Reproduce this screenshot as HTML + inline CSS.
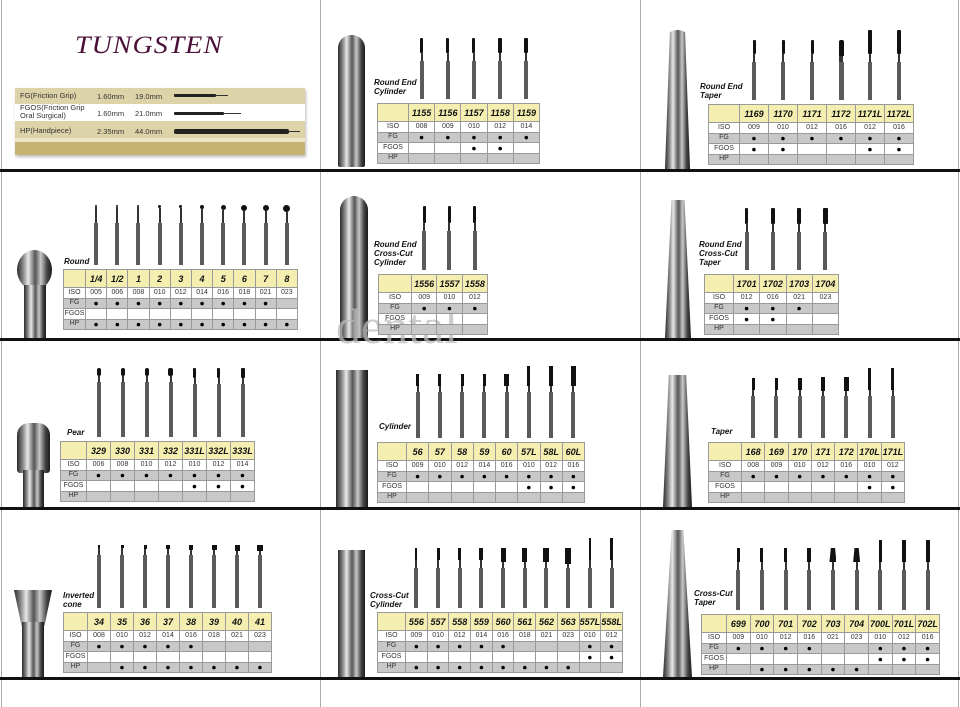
<!DOCTYPE html>
<html><head><meta charset="utf-8"><style>
*{margin:0;padding:0;box-sizing:border-box}
body{width:960px;height:707px;position:relative;background:#fff;overflow:hidden;font-family:"Liberation Sans",sans-serif}
.a{position:absolute}
.hl{position:absolute;left:0;width:960px;height:3px;background:#111}
.vl{position:absolute;top:0;width:1px;height:707px;background:#aaa}
.t{position:absolute;border-collapse:collapse;table-layout:fixed}
.t td{border:1px solid #9a9a9a;padding:0;text-align:center;font-size:7px;color:#333;line-height:8px;height:10.5px;white-space:nowrap;overflow:hidden}
.t tr.b td{border:none;vertical-align:bottom;height:auto;overflow:visible}
.t tr.h td{background:#f4eeb0;font-weight:bold;font-style:italic;font-size:9px;color:#111;height:18px}
.t tr.g td{background:#c8c8c8}
.t td.k{font-size:8.5px;color:#000}
.u{display:inline-block;vertical-align:bottom;margin-bottom:4px}
.u b{display:block;margin:0 auto;background:#111}
.u i{display:block;margin:0 auto;width:2px;background:#333}
.u u{display:block;margin:0 auto;width:4px;background:#5b5b5b;text-decoration:none}
.lb{position:absolute;font-weight:bold;font-style:italic;font-size:8px;line-height:9px;color:#111}
.m{position:absolute;background:linear-gradient(90deg,#2a2a2a 0%,#8a8a8a 18%,#e8e8e8 32%,#555 52%,#c8c8c8 68%,#444 86%,#1a1a1a 100%)}
</style></head><body>

<div class="vl" style="left:1px"></div>
<div class="vl" style="left:320px"></div>
<div class="vl" style="left:640px"></div>
<div class="vl" style="left:958px"></div>
<div class="hl" style="top:169px"></div>
<div class="hl" style="top:338px"></div>
<div class="hl" style="top:507px"></div>
<div class="hl" style="top:677px"></div>

<!-- Panel 1 -->
<div class="a" style="left:75px;top:30px;font-family:'Liberation Serif',serif;font-style:italic;font-size:28px;color:#4a1038;letter-spacing:1px;transform:scaleY(0.9)">TUNGSTEN</div>
<div class="a" style="left:15px;top:88px;width:290px;height:67px;background:#ddd3a8;box-shadow:1px 2px 3px #bbb"></div>
<div class="a" style="left:15px;top:104px;width:290px;height:17px;background:#fff"></div>
<div class="a" style="left:15px;top:138px;width:290px;height:4px;background:#eee6c6"></div>
<div class="a" style="left:15px;top:142px;width:290px;height:13px;background:#c6b373"></div>
<div class="a" style="left:20px;top:91px;font-size:7.5px;color:#333">FG(Friction Grip)</div>
<div class="a" style="left:20px;top:104px;font-size:7.5px;color:#333;line-height:8px">FGOS(Friction Grip<br>Oral Surgical)</div>
<div class="a" style="left:20px;top:126px;font-size:7.5px;color:#333">HP(Handpiece)</div>
<div class="a" style="left:97px;top:92px;font-size:7.5px;color:#333">1.60mm</div>
<div class="a" style="left:135px;top:92px;font-size:7.5px;color:#333">19.0mm</div>
<div class="a" style="left:97px;top:109px;font-size:7.5px;color:#333">1.60mm</div>
<div class="a" style="left:135px;top:109px;font-size:7.5px;color:#333">21.0mm</div>
<div class="a" style="left:97px;top:127px;font-size:7.5px;color:#333">2.35mm</div>
<div class="a" style="left:135px;top:127px;font-size:7.5px;color:#333">44.0mm</div>
<div class="a" style="left:174px;top:94px;width:42px;height:3px;background:#222;border-radius:1px"></div>
<div class="a" style="left:216px;top:95px;width:12px;height:1px;background:#333"></div>
<div class="a" style="left:174px;top:112px;width:50px;height:3px;background:#222;border-radius:1px"></div>
<div class="a" style="left:224px;top:113px;width:17px;height:1px;background:#333"></div>
<div class="a" style="left:174px;top:129px;width:115px;height:5px;background:#222;border-radius:2px"></div>
<div class="a" style="left:289px;top:131px;width:11px;height:1px;background:#333"></div>

<!-- Big metallic burs -->
<div class="m" style="left:338px;top:35px;width:27px;height:132px;border-radius:13px 13px 2px 2px"></div>
<div class="m" style="left:665px;top:30px;width:25px;height:139px;border-radius:12px 12px 0 0;clip-path:polygon(20% 0,80% 0,100% 100%,0 100%)"></div>
<div class="m" style="left:17px;top:250px;width:35px;height:40px;border-radius:50%"></div>
<div class="m" style="left:24px;top:285px;width:22px;height:53px"></div>
<div class="m" style="left:340px;top:196px;width:28px;height:142px;border-radius:14px 14px 0 0"></div>
<div class="m" style="left:665px;top:200px;width:26px;height:138px;border-radius:8px 8px 0 0;clip-path:polygon(25% 0,75% 0,100% 100%,0 100%)"></div>
<div class="m" style="left:17px;top:423px;width:33px;height:50px;border-radius:12px 12px 3px 3px"></div>
<div class="m" style="left:23px;top:470px;width:21px;height:37px"></div>
<div class="m" style="left:336px;top:370px;width:32px;height:137px"></div>
<div class="m" style="left:663px;top:375px;width:29px;height:132px;clip-path:polygon(20% 0,80% 0,100% 100%,0 100%)"></div>
<div class="m" style="left:14px;top:590px;width:38px;height:36px;clip-path:polygon(0 0,100% 0,80% 100%,20% 100%)"></div>
<div class="m" style="left:22px;top:622px;width:22px;height:55px"></div>
<div class="m" style="left:338px;top:550px;width:27px;height:127px"></div>
<div class="m" style="left:663px;top:530px;width:29px;height:147px;clip-path:polygon(30% 0,70% 0,100% 100%,0 100%)"></div>

<div class="a" style="left:336px;top:296px;font-family:'Liberation Serif',serif;font-size:50px;color:#bbb;opacity:.75;line-height:60px">dental</div>

<!-- Labels -->
<div class="lb" style="left:64px;top:257px">Round</div>
<div class="lb" style="left:374px;top:78px">Round End<br>Cylinder</div>
<div class="lb" style="left:700px;top:82px">Round End<br>Taper</div>
<div class="lb" style="left:699px;top:240px">Round End<br>Cross-Cut<br>Taper</div>
<div class="lb" style="left:374px;top:240px">Round End<br>Cross-Cut<br>Cylinder</div>
<div class="lb" style="left:379px;top:422px">Cylinder</div>
<div class="lb" style="left:67px;top:428px">Pear</div>
<div class="lb" style="left:63px;top:591px">Inverted<br>cone</div>
<div class="lb" style="left:711px;top:427px">Taper</div>
<div class="lb" style="left:694px;top:589px">Cross-Cut<br>Taper</div>
<div class="lb" style="left:370px;top:591px">Cross-Cut<br>Cylinder</div>

<!-- Round -->
<table class="t" style="left:63px;top:205px;width:235px">
<colgroup><col style="width:22px"><col span="10"></colgroup>
<tr class="b"><td></td>
<td><div class="u"><b style="width:2px;height:2px;border-radius:50%"></b><i style="height:16px"></i><u style="height:42px"></u></div></td>
<td><div class="u"><b style="width:2px;height:2px;border-radius:50%"></b><i style="height:16px"></i><u style="height:42px"></u></div></td>
<td><div class="u"><b style="width:2px;height:2px;border-radius:50%"></b><i style="height:16px"></i><u style="height:42px"></u></div></td>
<td><div class="u"><b style="width:3px;height:3px;border-radius:50%"></b><i style="height:15px"></i><u style="height:42px"></u></div></td>
<td><div class="u"><b style="width:3px;height:3px;border-radius:50%"></b><i style="height:15px"></i><u style="height:42px"></u></div></td>
<td><div class="u"><b style="width:4px;height:4px;border-radius:50%"></b><i style="height:14px"></i><u style="height:42px"></u></div></td>
<td><div class="u"><b style="width:5px;height:5px;border-radius:50%"></b><i style="height:13px"></i><u style="height:42px"></u></div></td>
<td><div class="u"><b style="width:6px;height:6px;border-radius:50%"></b><i style="height:12px"></i><u style="height:42px"></u></div></td>
<td><div class="u"><b style="width:6px;height:6px;border-radius:50%"></b><i style="height:12px"></i><u style="height:42px"></u></div></td>
<td><div class="u"><b style="width:7px;height:7px;border-radius:50%"></b><i style="height:11px"></i><u style="height:42px"></u></div></td></tr>
<tr class="h"><td></td><td>1/4</td><td>1/2</td><td>1</td><td>2</td><td>3</td><td>4</td><td>5</td><td>6</td><td>7</td><td>8</td></tr>
<tr><td>ISO</td><td>005</td><td>006</td><td>008</td><td>010</td><td>012</td><td>014</td><td>016</td><td>018</td><td>021</td><td>023</td></tr>
<tr class="g"><td>FG</td><td class="k">●</td><td class="k">●</td><td class="k">●</td><td class="k">●</td><td class="k">●</td><td class="k">●</td><td class="k">●</td><td class="k">●</td><td class="k">●</td><td></td></tr>
<tr><td>FGOS</td><td></td><td></td><td></td><td></td><td></td><td></td><td></td><td></td><td></td><td></td></tr>
<tr class="g"><td>HP</td><td class="k">●</td><td class="k">●</td><td class="k">●</td><td class="k">●</td><td class="k">●</td><td class="k">●</td><td class="k">●</td><td class="k">●</td><td class="k">●</td><td class="k">●</td></tr>
</table>

<!-- Round End Cylinder -->
<table class="t" style="left:377px;top:38px;width:163px">
<colgroup><col style="width:31px"><col span="5"></colgroup>
<tr class="b"><td></td>
<td><div class="u"><b style="width:3px;height:15px;border-radius:1px"></b><i style="height:8px"></i><u style="height:38px"></u></div></td>
<td><div class="u"><b style="width:3px;height:15px;border-radius:1px"></b><i style="height:8px"></i><u style="height:38px"></u></div></td>
<td><div class="u"><b style="width:3px;height:15px;border-radius:1px"></b><i style="height:8px"></i><u style="height:38px"></u></div></td>
<td><div class="u"><b style="width:4px;height:15px;border-radius:1px"></b><i style="height:8px"></i><u style="height:38px"></u></div></td>
<td><div class="u"><b style="width:4px;height:15px;border-radius:1px"></b><i style="height:8px"></i><u style="height:38px"></u></div></td></tr>
<tr class="h"><td></td><td>1155</td><td>1156</td><td>1157</td><td>1158</td><td>1159</td></tr>
<tr><td>ISO</td><td>008</td><td>009</td><td>010</td><td>012</td><td>014</td></tr>
<tr class="g"><td>FG</td><td class="k">●</td><td class="k">●</td><td class="k">●</td><td class="k">●</td><td class="k">●</td></tr>
<tr><td>FGOS</td><td></td><td></td><td class="k">●</td><td class="k">●</td><td></td></tr>
<tr class="g"><td>HP</td><td></td><td></td><td></td><td></td><td></td></tr>
</table>

<!-- Round End Taper -->
<table class="t" style="left:708px;top:30px;width:206px">
<colgroup><col style="width:31px"><col span="6"></colgroup>
<tr class="b"><td></td>
<td><div class="u"><b style="width:3px;height:14px;border-radius:1px"></b><i style="height:8px"></i><u style="height:38px"></u></div></td>
<td><div class="u"><b style="width:3px;height:14px;border-radius:1px"></b><i style="height:8px"></i><u style="height:38px"></u></div></td>
<td><div class="u"><b style="width:3px;height:14px;border-radius:1px"></b><i style="height:8px"></i><u style="height:38px"></u></div></td>
<td><div class="u"><b style="width:5px;height:16px;border-radius:2px 2px 0 0"></b><i style="height:6px;width:4px"></i><u style="height:38px;width:5px"></u></div></td>
<td><div class="u"><b style="width:4px;height:24px;border-radius:1px"></b><i style="height:8px"></i><u style="height:38px"></u></div></td>
<td><div class="u"><b style="width:4px;height:24px;border-radius:1px"></b><i style="height:8px"></i><u style="height:38px"></u></div></td></tr>
<tr class="h"><td></td><td>1169</td><td>1170</td><td>1171</td><td>1172</td><td>1171L</td><td>1172L</td></tr>
<tr><td>ISO</td><td>009</td><td>010</td><td>012</td><td>016</td><td>012</td><td>016</td></tr>
<tr class="g"><td>FG</td><td class="k">●</td><td class="k">●</td><td class="k">●</td><td class="k">●</td><td class="k">●</td><td class="k">●</td></tr>
<tr><td>FGOS</td><td class="k">●</td><td class="k">●</td><td></td><td></td><td class="k">●</td><td class="k">●</td></tr>
<tr class="g"><td>HP</td><td></td><td></td><td></td><td></td><td></td><td></td></tr>
</table>

<!-- Round End Cross-Cut Taper -->
<table class="t" style="left:704px;top:208px;width:135px">
<colgroup><col style="width:29px"><col span="4"></colgroup>
<tr class="b"><td></td>
<td><div class="u"><b style="width:3px;height:16px;border-radius:1px"></b><i style="height:8px"></i><u style="height:38px"></u></div></td>
<td><div class="u"><b style="width:4px;height:16px;border-radius:1px"></b><i style="height:8px"></i><u style="height:38px"></u></div></td>
<td><div class="u"><b style="width:4px;height:16px;border-radius:1px"></b><i style="height:8px"></i><u style="height:38px"></u></div></td>
<td><div class="u"><b style="width:5px;height:16px;border-radius:1px"></b><i style="height:8px"></i><u style="height:38px"></u></div></td></tr>
<tr class="h"><td></td><td>1701</td><td>1702</td><td>1703</td><td>1704</td></tr>
<tr><td>ISO</td><td>012</td><td>016</td><td>021</td><td>023</td></tr>
<tr class="g"><td>FG</td><td class="k">●</td><td class="k">●</td><td class="k">●</td><td></td></tr>
<tr><td>FGOS</td><td class="k">●</td><td class="k">●</td><td></td><td></td></tr>
<tr class="g"><td>HP</td><td></td><td></td><td></td><td></td></tr>
</table>

<!-- Round End Cross-Cut Cylinder -->
<table class="t" style="left:378px;top:206px;width:110px">
<colgroup><col style="width:33px"><col span="3"></colgroup>
<tr class="b"><td></td>
<td><div class="u"><b style="width:3px;height:17px;border-radius:1px"></b><i style="height:8px"></i><u style="height:39px"></u></div></td>
<td><div class="u"><b style="width:3px;height:17px;border-radius:1px"></b><i style="height:8px"></i><u style="height:39px"></u></div></td>
<td><div class="u"><b style="width:3px;height:17px;border-radius:1px"></b><i style="height:8px"></i><u style="height:39px"></u></div></td></tr>
<tr class="h"><td></td><td>1556</td><td>1557</td><td>1558</td></tr>
<tr><td>ISO</td><td>009</td><td>010</td><td>012</td></tr>
<tr class="g"><td>FG</td><td class="k">●</td><td class="k">●</td><td class="k">●</td></tr>
<tr><td>FGOS</td><td></td><td></td><td></td></tr>
<tr class="g"><td>HP</td><td></td><td></td><td></td></tr>
</table>

<!-- Cylinder -->
<table class="t" style="left:377px;top:366px;width:208px">
<colgroup><col style="width:29px"><col span="8"></colgroup>
<tr class="b"><td></td>
<td><div class="u"><b style="width:3px;height:12px"></b><i style="height:6px"></i><u style="height:46px"></u></div></td>
<td><div class="u"><b style="width:3px;height:12px"></b><i style="height:6px"></i><u style="height:46px"></u></div></td>
<td><div class="u"><b style="width:3px;height:12px"></b><i style="height:6px"></i><u style="height:46px"></u></div></td>
<td><div class="u"><b style="width:3px;height:12px"></b><i style="height:6px"></i><u style="height:46px"></u></div></td>
<td><div class="u"><b style="width:5px;height:12px"></b><i style="height:6px"></i><u style="height:46px"></u></div></td>
<td><div class="u"><b style="width:3px;height:20px"></b><i style="height:6px"></i><u style="height:46px"></u></div></td>
<td><div class="u"><b style="width:4px;height:20px"></b><i style="height:6px"></i><u style="height:46px"></u></div></td>
<td><div class="u"><b style="width:5px;height:20px"></b><i style="height:6px"></i><u style="height:46px"></u></div></td></tr>
<tr class="h"><td></td><td>56</td><td>57</td><td>58</td><td>59</td><td>60</td><td>57L</td><td>58L</td><td>60L</td></tr>
<tr><td>ISO</td><td>009</td><td>010</td><td>012</td><td>014</td><td>016</td><td>010</td><td>012</td><td>016</td></tr>
<tr class="g"><td>FG</td><td class="k">●</td><td class="k">●</td><td class="k">●</td><td class="k">●</td><td class="k">●</td><td class="k">●</td><td class="k">●</td><td class="k">●</td></tr>
<tr><td>FGOS</td><td></td><td></td><td></td><td></td><td></td><td class="k">●</td><td class="k">●</td><td class="k">●</td></tr>
<tr class="g"><td>HP</td><td></td><td></td><td></td><td></td><td></td><td></td><td></td><td></td></tr>
</table>

<!-- Pear -->
<table class="t" style="left:60px;top:368px;width:195px">
<colgroup><col style="width:26px"><col span="7"></colgroup>
<tr class="b"><td></td>
<td><div class="u"><b style="width:4px;height:8px;border-radius:2px"></b><i style="height:6px"></i><u style="height:55px"></u></div></td>
<td><div class="u"><b style="width:4px;height:8px;border-radius:2px"></b><i style="height:6px"></i><u style="height:55px"></u></div></td>
<td><div class="u"><b style="width:4px;height:8px;border-radius:2px"></b><i style="height:6px"></i><u style="height:55px"></u></div></td>
<td><div class="u"><b style="width:5px;height:8px;border-radius:2px"></b><i style="height:6px"></i><u style="height:55px"></u></div></td>
<td><div class="u"><b style="width:3px;height:10px;border-radius:1px"></b><i style="height:6px"></i><u style="height:53px"></u></div></td>
<td><div class="u"><b style="width:3px;height:10px;border-radius:1px"></b><i style="height:6px"></i><u style="height:53px"></u></div></td>
<td><div class="u"><b style="width:4px;height:10px;border-radius:1px"></b><i style="height:6px"></i><u style="height:53px"></u></div></td></tr>
<tr class="h"><td></td><td>329</td><td>330</td><td>331</td><td>332</td><td>331L</td><td>332L</td><td>333L</td></tr>
<tr><td>ISO</td><td>006</td><td>008</td><td>010</td><td>012</td><td>010</td><td>012</td><td>014</td></tr>
<tr class="g"><td>FG</td><td class="k">●</td><td class="k">●</td><td class="k">●</td><td class="k">●</td><td class="k">●</td><td class="k">●</td><td class="k">●</td></tr>
<tr><td>FGOS</td><td></td><td></td><td></td><td></td><td class="k">●</td><td class="k">●</td><td class="k">●</td></tr>
<tr class="g"><td>HP</td><td></td><td></td><td></td><td></td><td></td><td></td><td></td></tr>
</table>

<!-- Inverted cone -->
<table class="t" style="left:63px;top:545px;width:209px">
<colgroup><col style="width:24px"><col span="8"></colgroup>
<tr class="b"><td></td>
<td><div class="u"><b style="width:2px;height:3px"></b><i style="height:7px"></i><u style="height:53px"></u></div></td>
<td><div class="u"><b style="width:3px;height:3px"></b><i style="height:7px"></i><u style="height:53px"></u></div></td>
<td><div class="u"><b style="width:3px;height:4px"></b><i style="height:6px"></i><u style="height:53px"></u></div></td>
<td><div class="u"><b style="width:4px;height:4px"></b><i style="height:6px"></i><u style="height:53px"></u></div></td>
<td><div class="u"><b style="width:4px;height:5px"></b><i style="height:5px"></i><u style="height:53px"></u></div></td>
<td><div class="u"><b style="width:5px;height:5px"></b><i style="height:5px"></i><u style="height:53px"></u></div></td>
<td><div class="u"><b style="width:5px;height:6px"></b><i style="height:4px"></i><u style="height:53px"></u></div></td>
<td><div class="u"><b style="width:6px;height:6px"></b><i style="height:4px"></i><u style="height:53px"></u></div></td></tr>
<tr class="h"><td></td><td>34</td><td>35</td><td>36</td><td>37</td><td>38</td><td>39</td><td>40</td><td>41</td></tr>
<tr><td>ISO</td><td>008</td><td>010</td><td>012</td><td>014</td><td>016</td><td>018</td><td>021</td><td>023</td></tr>
<tr class="g"><td>FG</td><td class="k">●</td><td class="k">●</td><td class="k">●</td><td class="k">●</td><td class="k">●</td><td></td><td></td><td></td></tr>
<tr><td>FGOS</td><td></td><td></td><td></td><td></td><td></td><td></td><td></td><td></td></tr>
<tr class="g"><td>HP</td><td></td><td class="k">●</td><td class="k">●</td><td class="k">●</td><td class="k">●</td><td class="k">●</td><td class="k">●</td><td class="k">●</td></tr>
</table>

<!-- Taper -->
<table class="t" style="left:708px;top:368px;width:197px">
<colgroup><col style="width:33px"><col span="7"></colgroup>
<tr class="b"><td></td>
<td><div class="u"><b style="width:3px;height:12px"></b><i style="height:6px"></i><u style="height:42px"></u></div></td>
<td><div class="u"><b style="width:3px;height:12px"></b><i style="height:6px"></i><u style="height:42px"></u></div></td>
<td><div class="u"><b style="width:4px;height:12px"></b><i style="height:6px"></i><u style="height:42px"></u></div></td>
<td><div class="u"><b style="width:4px;height:14px"></b><i style="height:5px"></i><u style="height:42px"></u></div></td>
<td><div class="u"><b style="width:5px;height:14px"></b><i style="height:5px"></i><u style="height:42px"></u></div></td>
<td><div class="u"><b style="width:3px;height:22px"></b><i style="height:6px"></i><u style="height:42px"></u></div></td>
<td><div class="u"><b style="width:3px;height:22px"></b><i style="height:6px"></i><u style="height:42px"></u></div></td></tr>
<tr class="h"><td></td><td>168</td><td>169</td><td>170</td><td>171</td><td>172</td><td>170L</td><td>171L</td></tr>
<tr><td>ISO</td><td>008</td><td>009</td><td>010</td><td>012</td><td>016</td><td>010</td><td>012</td></tr>
<tr class="g"><td>FG</td><td class="k">●</td><td class="k">●</td><td class="k">●</td><td class="k">●</td><td class="k">●</td><td class="k">●</td><td class="k">●</td></tr>
<tr><td>FGOS</td><td></td><td></td><td></td><td></td><td></td><td class="k">●</td><td class="k">●</td></tr>
<tr class="g"><td>HP</td><td></td><td></td><td></td><td></td><td></td><td></td><td></td></tr>
</table>

<!-- Cross-Cut Taper -->
<table class="t" style="left:701px;top:540px;width:239px">
<colgroup><col style="width:25px"><col span="9"></colgroup>
<tr class="b"><td></td>
<td><div class="u"><b style="width:3px;height:14px"></b><i style="height:8px"></i><u style="height:40px"></u></div></td>
<td><div class="u"><b style="width:3px;height:14px"></b><i style="height:8px"></i><u style="height:40px"></u></div></td>
<td><div class="u"><b style="width:3px;height:14px"></b><i style="height:8px"></i><u style="height:40px"></u></div></td>
<td><div class="u"><b style="width:4px;height:14px"></b><i style="height:8px"></i><u style="height:40px"></u></div></td>
<td><div class="u"><b style="width:7px;height:14px;clip-path:polygon(20% 0,80% 0,100% 100%,0 100%)"></b><i style="height:8px"></i><u style="height:40px"></u></div></td>
<td><div class="u"><b style="width:7px;height:14px;clip-path:polygon(20% 0,80% 0,100% 100%,0 100%)"></b><i style="height:8px"></i><u style="height:40px"></u></div></td>
<td><div class="u"><b style="width:3px;height:22px"></b><i style="height:8px"></i><u style="height:40px"></u></div></td>
<td><div class="u"><b style="width:4px;height:22px"></b><i style="height:8px"></i><u style="height:40px"></u></div></td>
<td><div class="u"><b style="width:4px;height:22px"></b><i style="height:8px"></i><u style="height:40px"></u></div></td></tr>
<tr class="h"><td></td><td>699</td><td>700</td><td>701</td><td>702</td><td>703</td><td>704</td><td>700L</td><td>701L</td><td>702L</td></tr>
<tr><td>ISO</td><td>009</td><td>010</td><td>012</td><td>016</td><td>021</td><td>023</td><td>010</td><td>012</td><td>016</td></tr>
<tr class="g"><td>FG</td><td class="k">●</td><td class="k">●</td><td class="k">●</td><td class="k">●</td><td></td><td></td><td class="k">●</td><td class="k">●</td><td class="k">●</td></tr>
<tr><td>FGOS</td><td></td><td></td><td></td><td></td><td></td><td></td><td class="k">●</td><td class="k">●</td><td class="k">●</td></tr>
<tr class="g"><td>HP</td><td></td><td class="k">●</td><td class="k">●</td><td class="k">●</td><td class="k">●</td><td class="k">●</td><td></td><td></td><td></td></tr>
</table>

<!-- Cross-Cut Cylinder -->
<table class="t" style="left:377px;top:538px;width:246px">
<colgroup><col style="width:28px"><col span="10"></colgroup>
<tr class="b"><td></td>
<td><div class="u"><b style="width:2px;height:12px"></b><i style="height:8px"></i><u style="height:40px"></u></div></td>
<td><div class="u"><b style="width:3px;height:12px"></b><i style="height:8px"></i><u style="height:40px"></u></div></td>
<td><div class="u"><b style="width:3px;height:12px"></b><i style="height:8px"></i><u style="height:40px"></u></div></td>
<td><div class="u"><b style="width:4px;height:12px"></b><i style="height:8px"></i><u style="height:40px"></u></div></td>
<td><div class="u"><b style="width:5px;height:14px"></b><i style="height:6px"></i><u style="height:40px"></u></div></td>
<td><div class="u"><b style="width:5px;height:14px"></b><i style="height:6px"></i><u style="height:40px"></u></div></td>
<td><div class="u"><b style="width:6px;height:14px"></b><i style="height:6px"></i><u style="height:40px"></u></div></td>
<td><div class="u"><b style="width:6px;height:16px"></b><i style="height:4px"></i><u style="height:40px"></u></div></td>
<td><div class="u"><b style="width:2px;height:22px"></b><i style="height:8px"></i><u style="height:40px"></u></div></td>
<td><div class="u"><b style="width:3px;height:22px"></b><i style="height:8px"></i><u style="height:40px"></u></div></td></tr>
<tr class="h"><td></td><td>556</td><td>557</td><td>558</td><td>559</td><td>560</td><td>561</td><td>562</td><td>563</td><td>557L</td><td>558L</td></tr>
<tr><td>ISO</td><td>009</td><td>010</td><td>012</td><td>014</td><td>016</td><td>018</td><td>021</td><td>023</td><td>010</td><td>012</td></tr>
<tr class="g"><td>FG</td><td class="k">●</td><td class="k">●</td><td class="k">●</td><td class="k">●</td><td class="k">●</td><td></td><td></td><td></td><td class="k">●</td><td class="k">●</td></tr>
<tr><td>FGOS</td><td></td><td></td><td></td><td></td><td></td><td></td><td></td><td></td><td class="k">●</td><td class="k">●</td></tr>
<tr class="g"><td>HP</td><td class="k">●</td><td class="k">●</td><td class="k">●</td><td class="k">●</td><td class="k">●</td><td class="k">●</td><td class="k">●</td><td class="k">●</td><td></td><td></td></tr>
</table>

</body></html>
